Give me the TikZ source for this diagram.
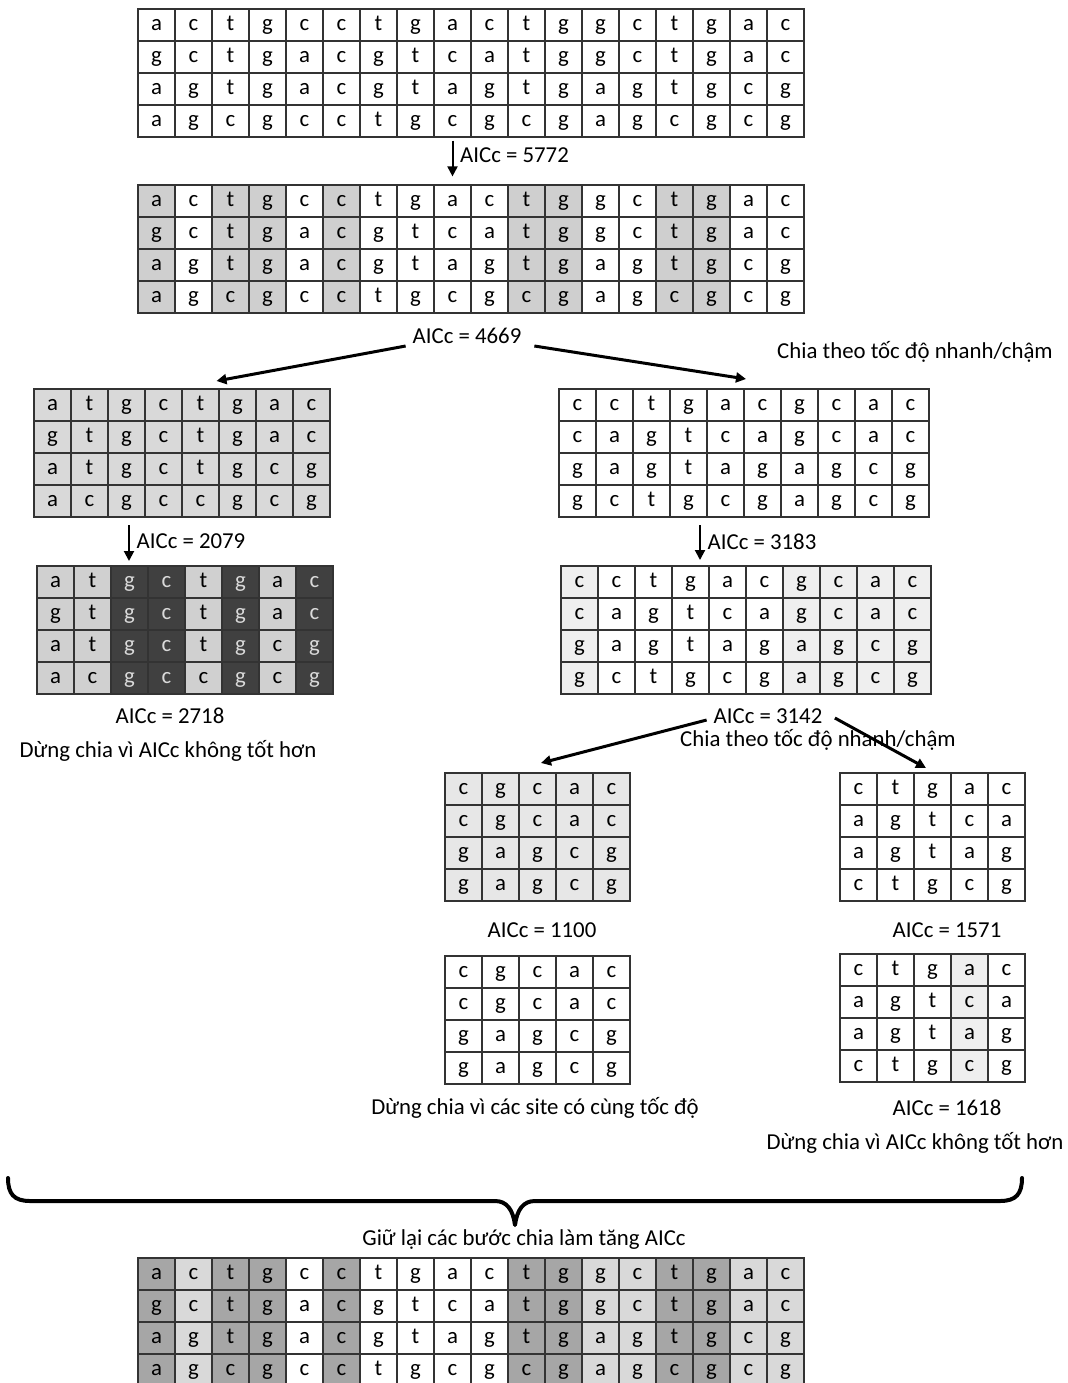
\documentclass[tikz,border=0pt]{standalone}
\usepackage{fontspec}
\setmainfont{Carlito}
\usetikzlibrary{positioning,arrows.meta,matrix}
\definecolor{midgray}{HTML}{CFCFCF}
\definecolor{boxgray}{HTML}{D9D9D9}
\definecolor{rowgray}{HTML}{D0D0D0}
\definecolor{inkgray}{HTML}{404040}
\definecolor{palegray}{HTML}{EFEFEF}
\definecolor{softgray}{HTML}{E7E7E7}
\definecolor{keepgray}{HTML}{A6A6A6}

\begin{document}
\begin{tikzpicture}[
  x=0.5pt, y=-0.5pt,
  font=\fontsize{11.4}{13.7}\selectfont,
  >={Triangle[length=5pt, width=5pt]},
  cell/.style={draw=black!80, line width=0.6pt, outer sep=0.3pt, inner sep=0pt,
    minimum width=18.5pt, minimum height=16pt, text height=1.5ex, text depth=0.4ex},
  seq/.style={matrix of nodes, nodes={cell}, anchor=north west, inner sep=0pt,
    column sep=-0.6pt, row sep=-0.6pt},
  midcol/.style={column #1/.style={nodes={fill=midgray}}},
  inkcol/.style={column #1/.style={nodes={fill=inkgray, text=boxgray}}},
  palecol/.style={column #1/.style={nodes={fill=palegray}}},
  keepcol/.style={column #1/.style={nodes={fill=keepgray}}},
  litecol/.style={column #1/.style={nodes={fill=boxgray}}},
  flow/.style={->, line width=1pt},
  split/.style={->, line width=1.5pt},
  curly/.style={line width=2pt, line cap=round, line join=round}
]
\useasboundingbox (0,0) rectangle (1068,1383);

\matrix (g0) [seq] at (137,8) {
a & c & t & g & c & c & t & g & a & c & t & g & g & c & t & g & a & c \\
g & c & t & g & a & c & g & t & c & a & t & g & g & c & t & g & a & c \\
a & g & t & g & a & c & g & t & a & g & t & g & a & g & t & g & c & g \\
a & g & c & g & c & c & t & g & c & g & c & g & a & g & c & g & c & g \\
};
\matrix (g1) [seq, midcol/.list={1,3,4,6,11,12,15,16}] at (137,184) {
a & c & t & g & c & c & t & g & a & c & t & g & g & c & t & g & a & c \\
g & c & t & g & a & c & g & t & c & a & t & g & g & c & t & g & a & c \\
a & g & t & g & a & c & g & t & a & g & t & g & a & g & t & g & c & g \\
a & g & c & g & c & c & t & g & c & g & c & g & a & g & c & g & c & g \\
};
\draw[flow, shorten <=1.5pt, shorten >=4pt] (g0-4-9.south) -- node[right, pos=0.38] (k1) {AICc = 5772} (g1-1-9.north);

\matrix (gl) [seq, nodes={fill=boxgray}] at (33,388) {
a & t & g & c & t & g & a & c \\
g & t & g & c & t & g & a & c \\
a & t & g & c & t & g & c & g \\
a & c & g & c & c & g & c & g \\
};
\matrix (gr) [seq] at (558,388) {
c & c & t & g & a & c & g & c & a & c \\
c & a & g & t & c & a & g & c & a & c \\
g & a & g & t & a & g & a & g & c & g \\
g & c & t & g & c & g & a & g & c & g \\
};
\node (s1) at (467,336) {AICc = 4669};
\node (c1) at (915,352) {Chia theo tốc độ nhanh/chậm};
\draw[split] ([yshift=-5pt]s1.west) -- ([xshift=17.25pt, yshift=3.5pt]gl.north);
\draw[split] ([xshift=3pt, yshift=-5pt]s1.east) -- ([xshift=1pt, yshift=4.5pt]gr.north);

\matrix (gld) [seq, nodes={fill=rowgray}, inkcol/.list={3,4,6,8}] at (36,565) {
a & t & g & c & t & g & a & c \\
g & t & g & c & t & g & a & c \\
a & t & g & c & t & g & c & g \\
a & c & g & c & c & g & c & g \\
};
\draw[flow, shorten <=3.5pt, shorten >=2pt] ([xshift=-26.5pt]gl.south) -- node[right] (k2) {AICc = 2079} ([xshift=-28pt]gld.north);
\node (k4) at (170,716) {AICc = 2718};
\node (t1) at (168,751) {Dừng chia vì AICc không tốt hơn};

\matrix (grs) [seq, palecol/.list={1,7,8,9,10}] at (560,565) {
c & c & t & g & a & c & g & c & a & c \\
c & a & g & t & c & a & g & c & a & c \\
g & a & g & t & a & g & a & g & c & g \\
g & c & t & g & c & g & a & g & c & g \\
};
\draw[flow, shorten <=3.5pt, shorten >=2.5pt] ([xshift=-22pt]gr.south) -- node[right] (k3) {AICc = 3183} ([xshift=-23pt]grs.north);

\matrix (gm1) [seq, nodes={fill=softgray}] at (444,772) {
c & g & c & a & c \\
c & g & c & a & c \\
g & a & g & c & g \\
g & a & g & c & g \\
};
\matrix (grb1) [seq] at (839,772) {
c & t & g & a & c \\
a & g & t & c & a \\
a & g & t & a & g \\
c & t & g & c & g \\
};
\node (s2) at (768,716) {AICc = 3142};
\node (c2) at (818,740) {Chia theo tốc độ nhanh/chậm};
\draw[split] ([yshift=-2pt]s2.west) -- ([xshift=1.75pt, yshift=4.5pt]gm1.north);
\draw[split] ([xshift=2.75pt, yshift=-1pt]s2.east) -- ([xshift=-3.25pt, yshift=2pt]grb1.north);

\node (k5) at (542,930) {AICc = 1100};
\node (k6) at (947,930) {AICc = 1571};
\matrix (gm2) [seq] at (444,955) {
c & g & c & a & c \\
c & g & c & a & c \\
g & a & g & c & g \\
g & a & g & c & g \\
};
\matrix (grb2) [seq, palecol=4] at (839,953) {
c & t & g & a & c \\
a & g & t & c & a \\
a & g & t & a & g \\
c & t & g & c & g \\
};
\node (t2) at (535,1108) {Dừng chia vì các site có cùng tốc độ};
\node (k7) at (947,1108) {AICc = 1618};
\node (t3) at (915,1143) {Dừng chia vì AICc không tốt hơn};

\coordinate (bl) at (8,1178);
\coordinate (bm) at (515,1225);
\coordinate (br) at (1022,1178);
\draw[curly] (bl) .. controls (8,1194) and (14,1201) .. (30,1201) -- (495,1201)
  .. controls (507,1201) and (513,1210) .. (bm)
  .. controls (517,1210) and (523,1201) .. (535,1201) -- (1000,1201)
  .. controls (1016,1201) and (1022,1194) .. (br);
\node (t4) at (524,1240) {Giữ lại các bước chia làm tăng AICc};

\matrix (gb) [seq, keepcol/.list={1,3,4,6,11,12,15,16}, litecol/.list={2,13,14,17,18}] at (137,1257) {
a & c & t & g & c & c & t & g & a & c & t & g & g & c & t & g & a & c \\
g & c & t & g & a & c & g & t & c & a & t & g & g & c & t & g & a & c \\
a & g & t & g & a & c & g & t & a & g & t & g & a & g & t & g & c & g \\
a & g & c & g & c & c & t & g & c & g & c & g & a & g & c & g & c & g \\
};
\end{tikzpicture}
\end{document}
